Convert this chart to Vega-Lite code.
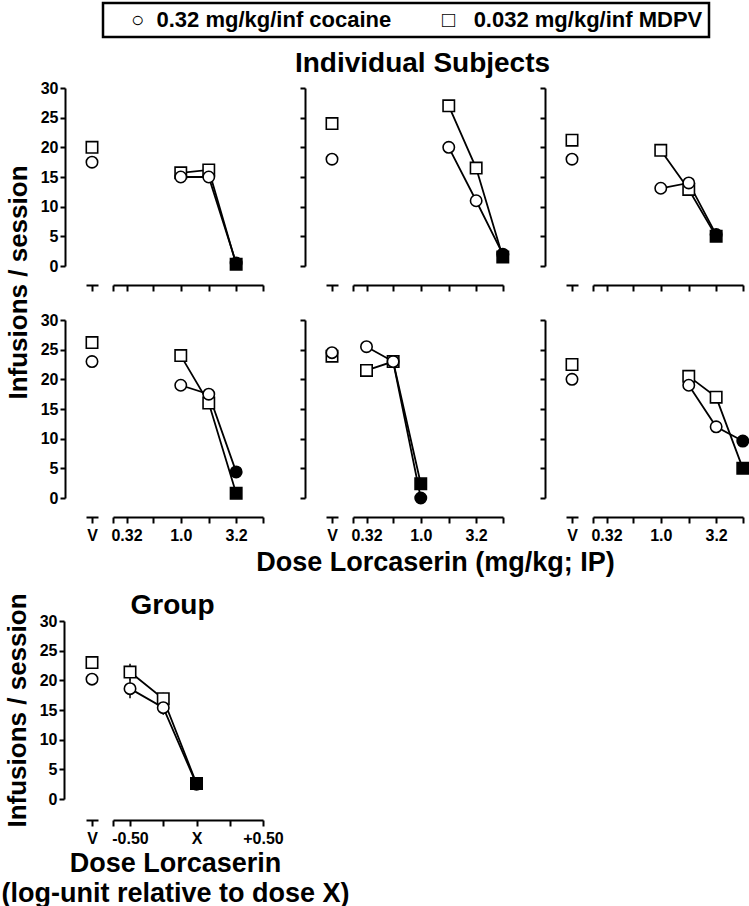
{
  "$schema": "https://vega.github.io/schema/vega-lite/v6.json",
  "padding": {"left": 0, "top": 1, "right": 0, "bottom": 0},
  "background": "white",
  "datasets": {
    "ind": [
      {"subject": 1, "drug": "0.032 mg/kg/inf MDPV", "treatment": "V", "infusions": 20.0, "doseX": false},
      {"subject": 1, "drug": "0.32 mg/kg/inf cocaine", "treatment": "V", "infusions": 17.5, "doseX": false},
      {"subject": 1, "drug": "0.032 mg/kg/inf MDPV", "treatment": "Lorcaserin", "dose": 1.0, "infusions": 15.7, "doseX": false},
      {"subject": 1, "drug": "0.032 mg/kg/inf MDPV", "treatment": "Lorcaserin", "dose": 1.8, "infusions": 16.2, "doseX": false},
      {"subject": 1, "drug": "0.032 mg/kg/inf MDPV", "treatment": "Lorcaserin", "dose": 3.2, "infusions": 0.3, "doseX": true},
      {"subject": 1, "drug": "0.32 mg/kg/inf cocaine", "treatment": "Lorcaserin", "dose": 1.0, "infusions": 15.0, "doseX": false},
      {"subject": 1, "drug": "0.32 mg/kg/inf cocaine", "treatment": "Lorcaserin", "dose": 1.8, "infusions": 15.0, "doseX": false},
      {"subject": 1, "drug": "0.32 mg/kg/inf cocaine", "treatment": "Lorcaserin", "dose": 3.2, "infusions": 0.5, "doseX": true},
      {"subject": 2, "drug": "0.032 mg/kg/inf MDPV", "treatment": "V", "infusions": 24.0, "doseX": false},
      {"subject": 2, "drug": "0.32 mg/kg/inf cocaine", "treatment": "V", "infusions": 18.0, "doseX": false},
      {"subject": 2, "drug": "0.032 mg/kg/inf MDPV", "treatment": "Lorcaserin", "dose": 1.8, "infusions": 27.0, "doseX": false},
      {"subject": 2, "drug": "0.032 mg/kg/inf MDPV", "treatment": "Lorcaserin", "dose": 3.2, "infusions": 16.5, "doseX": false},
      {"subject": 2, "drug": "0.032 mg/kg/inf MDPV", "treatment": "Lorcaserin", "dose": 5.6, "infusions": 1.5, "doseX": true},
      {"subject": 2, "drug": "0.32 mg/kg/inf cocaine", "treatment": "Lorcaserin", "dose": 1.8, "infusions": 20.0, "doseX": false},
      {"subject": 2, "drug": "0.32 mg/kg/inf cocaine", "treatment": "Lorcaserin", "dose": 3.2, "infusions": 11.0, "doseX": false},
      {"subject": 2, "drug": "0.32 mg/kg/inf cocaine", "treatment": "Lorcaserin", "dose": 5.6, "infusions": 2.0, "doseX": true},
      {"subject": 3, "drug": "0.032 mg/kg/inf MDPV", "treatment": "V", "infusions": 21.2, "doseX": false},
      {"subject": 3, "drug": "0.32 mg/kg/inf cocaine", "treatment": "V", "infusions": 18.0, "doseX": false},
      {"subject": 3, "drug": "0.032 mg/kg/inf MDPV", "treatment": "Lorcaserin", "dose": 1.0, "infusions": 19.5, "doseX": false},
      {"subject": 3, "drug": "0.032 mg/kg/inf MDPV", "treatment": "Lorcaserin", "dose": 1.8, "infusions": 12.9, "doseX": false},
      {"subject": 3, "drug": "0.032 mg/kg/inf MDPV", "treatment": "Lorcaserin", "dose": 3.2, "infusions": 5.0, "doseX": true},
      {"subject": 3, "drug": "0.32 mg/kg/inf cocaine", "treatment": "Lorcaserin", "dose": 1.0, "infusions": 13.1, "doseX": false},
      {"subject": 3, "drug": "0.32 mg/kg/inf cocaine", "treatment": "Lorcaserin", "dose": 1.8, "infusions": 14.0, "doseX": false},
      {"subject": 3, "drug": "0.32 mg/kg/inf cocaine", "treatment": "Lorcaserin", "dose": 3.2, "infusions": 5.3, "doseX": true},
      {"subject": 4, "drug": "0.032 mg/kg/inf MDPV", "treatment": "V", "infusions": 26.2, "doseX": false},
      {"subject": 4, "drug": "0.32 mg/kg/inf cocaine", "treatment": "V", "infusions": 23.0, "doseX": false},
      {"subject": 4, "drug": "0.032 mg/kg/inf MDPV", "treatment": "Lorcaserin", "dose": 1.0, "infusions": 24.0, "doseX": false},
      {"subject": 4, "drug": "0.032 mg/kg/inf MDPV", "treatment": "Lorcaserin", "dose": 1.8, "infusions": 16.0, "doseX": false},
      {"subject": 4, "drug": "0.032 mg/kg/inf MDPV", "treatment": "Lorcaserin", "dose": 3.2, "infusions": 0.8, "doseX": true},
      {"subject": 4, "drug": "0.32 mg/kg/inf cocaine", "treatment": "Lorcaserin", "dose": 1.0, "infusions": 19.0, "doseX": false},
      {"subject": 4, "drug": "0.32 mg/kg/inf cocaine", "treatment": "Lorcaserin", "dose": 1.8, "infusions": 17.5, "doseX": false},
      {"subject": 4, "drug": "0.32 mg/kg/inf cocaine", "treatment": "Lorcaserin", "dose": 3.2, "infusions": 4.4, "doseX": true},
      {"subject": 5, "drug": "0.032 mg/kg/inf MDPV", "treatment": "V", "infusions": 23.9, "doseX": false},
      {"subject": 5, "drug": "0.32 mg/kg/inf cocaine", "treatment": "V", "infusions": 24.5, "doseX": false},
      {"subject": 5, "drug": "0.032 mg/kg/inf MDPV", "treatment": "Lorcaserin", "dose": 0.32, "infusions": 21.5, "doseX": false},
      {"subject": 5, "drug": "0.032 mg/kg/inf MDPV", "treatment": "Lorcaserin", "dose": 0.56, "infusions": 23.0, "doseX": false},
      {"subject": 5, "drug": "0.032 mg/kg/inf MDPV", "treatment": "Lorcaserin", "dose": 1.0, "infusions": 2.4, "doseX": true},
      {"subject": 5, "drug": "0.32 mg/kg/inf cocaine", "treatment": "Lorcaserin", "dose": 0.32, "infusions": 25.5, "doseX": false},
      {"subject": 5, "drug": "0.32 mg/kg/inf cocaine", "treatment": "Lorcaserin", "dose": 0.56, "infusions": 23.0, "doseX": false},
      {"subject": 5, "drug": "0.32 mg/kg/inf cocaine", "treatment": "Lorcaserin", "dose": 1.0, "infusions": 0.0, "doseX": true},
      {"subject": 6, "drug": "0.032 mg/kg/inf MDPV", "treatment": "V", "infusions": 22.5, "doseX": false},
      {"subject": 6, "drug": "0.32 mg/kg/inf cocaine", "treatment": "V", "infusions": 20.0, "doseX": false},
      {"subject": 6, "drug": "0.032 mg/kg/inf MDPV", "treatment": "Lorcaserin", "dose": 1.8, "infusions": 20.5, "doseX": false},
      {"subject": 6, "drug": "0.032 mg/kg/inf MDPV", "treatment": "Lorcaserin", "dose": 3.2, "infusions": 17.0, "doseX": false},
      {"subject": 6, "drug": "0.032 mg/kg/inf MDPV", "treatment": "Lorcaserin", "dose": 5.6, "infusions": 5.0, "doseX": true},
      {"subject": 6, "drug": "0.32 mg/kg/inf cocaine", "treatment": "Lorcaserin", "dose": 1.8, "infusions": 19.0, "doseX": false},
      {"subject": 6, "drug": "0.32 mg/kg/inf cocaine", "treatment": "Lorcaserin", "dose": 3.2, "infusions": 12.0, "doseX": false},
      {"subject": 6, "drug": "0.32 mg/kg/inf cocaine", "treatment": "Lorcaserin", "dose": 5.6, "infusions": 9.6, "doseX": true}
    ],
    "grp": [
      {"drug": "0.032 mg/kg/inf MDPV", "treatment": "V", "infusions": 23.0, "sem": 0.8, "doseX": false},
      {"drug": "0.32 mg/kg/inf cocaine", "treatment": "V", "infusions": 20.2, "sem": 0.8, "doseX": false},
      {"drug": "0.032 mg/kg/inf MDPV", "treatment": "Lorcaserin", "relDose": -0.5, "infusions": 21.4, "sem": 1.4, "doseX": false},
      {"drug": "0.032 mg/kg/inf MDPV", "treatment": "Lorcaserin", "relDose": -0.25, "infusions": 16.9, "sem": 1.0, "doseX": false},
      {"drug": "0.032 mg/kg/inf MDPV", "treatment": "Lorcaserin", "relDose": 0, "infusions": 2.6, "sem": 0.6, "doseX": true},
      {"drug": "0.32 mg/kg/inf cocaine", "treatment": "Lorcaserin", "relDose": -0.5, "infusions": 18.6, "sem": 1.6, "doseX": false},
      {"drug": "0.32 mg/kg/inf cocaine", "treatment": "Lorcaserin", "relDose": -0.25, "infusions": 15.4, "sem": 1.2, "doseX": false},
      {"drug": "0.32 mg/kg/inf cocaine", "treatment": "Lorcaserin", "relDose": 0, "infusions": 2.5, "sem": 0.6, "doseX": true}
    ]
  },
  "bounds": "flush",
  "columns": 3,
  "spacing": {"row": 54, "column": 63},
  "concat": [
    {
      "width": 177, "height": 178, "data": {"name": "ind"},
      "transform": [{"filter": "datum.subject == 1"}],
      "encoding": {"y": {"field": "infusions", "type": "quantitative", "scale": {"domain": [0, 30], "nice": false}, "axis": {"values": [0, 5, 10, 15, 20, 25, 30], "title": "Infusions / session", "titleX": -34, "titleY": 194, "labels": true}}},
      "layer": [
        {"transform": [{"filter": "datum.treatment == 'V'"}],
         "mark": {"type": "point", "filled": true, "size": 130, "strokeWidth": 1.6, "stroke": "black", "opacity": 1},
         "encoding": {
           "x": {"field": "treatment", "type": "nominal", "scale": {"type": "point", "domain": ["V"], "range": [0, 12], "padding": 0.5}, "axis": {"orient": "bottom", "title": null, "labels": false}},
           "shape": {"field": "drug", "type": "nominal", "scale": {"domain": ["0.32 mg/kg/inf cocaine", "0.032 mg/kg/inf MDPV"], "range": ["circle", "square"]},
             "legend": {"orient": "none", "legendX": 17, "legendY": -85, "direction": "horizontal", "title": null, "labelLimit": 400, "columnPadding": 28, "symbolOpacity": 0, "symbolSize": 1, "labelOffset": 0,
               "labelExpr": "(datum.label == '0.32 mg/kg/inf cocaine' ? '○\u00a0\u00a0' : '□\u00a0\u00a0\u00a0') + datum.label"}},
           "fill": {"condition": {"test": "datum.doseX", "value": "black"}, "value": "white"}}},
        {"transform": [{"filter": "datum.treatment == 'Lorcaserin'"}],
         "encoding": {"x": {"field": "dose", "type": "quantitative", "scale": {"type": "log", "domain": [0.241, 5.623], "range": [27, 177], "nice": false}, "axis": {"orient": "bottom", "values": [0.241, 0.32, 0.56, 1, 1.8, 3.2, 5.6], "title": null, "labels": false}}},
         "layer": [
           {"mark": {"type": "line", "color": "black", "strokeWidth": 1.8}, "encoding": {"detail": {"field": "drug"}}},
           {"mark": {"type": "point", "filled": true, "size": 130, "strokeWidth": 1.6, "stroke": "black", "opacity": 1},
            "encoding": {
              "shape": {"field": "drug", "type": "nominal", "scale": {"domain": ["0.32 mg/kg/inf cocaine", "0.032 mg/kg/inf MDPV"], "range": ["circle", "square"]}, "legend": null},
              "fill": {"condition": {"test": "datum.doseX", "value": "black"}, "value": "white"}}}
         ]}
      ],
      "resolve": {"scale": {"x": "independent"}, "axis": {"x": "independent"}}
    },
    {
      "title": {"text": "Individual Subjects", "anchor": "middle", "frame": "group", "dx": 8, "offset": 9},
      "width": 177, "height": 178, "data": {"name": "ind"},
      "transform": [{"filter": "datum.subject == 2"}],
      "encoding": {"y": {"field": "infusions", "type": "quantitative", "scale": {"domain": [0, 30], "nice": false}, "axis": {"values": [0, 5, 10, 15, 20, 25, 30], "title": null, "labels": false}}},
      "layer": [
        {"transform": [{"filter": "datum.treatment == 'V'"}],
         "mark": {"type": "point", "filled": true, "size": 130, "strokeWidth": 1.6, "stroke": "black", "opacity": 1},
         "encoding": {
           "x": {"field": "treatment", "type": "nominal", "scale": {"type": "point", "domain": ["V"], "range": [0, 12], "padding": 0.5}, "axis": {"orient": "bottom", "title": null, "labels": false}},
           "shape": {"field": "drug", "type": "nominal", "scale": {"domain": ["0.32 mg/kg/inf cocaine", "0.032 mg/kg/inf MDPV"], "range": ["circle", "square"]}, "legend": null},
           "fill": {"condition": {"test": "datum.doseX", "value": "black"}, "value": "white"}}},
        {"transform": [{"filter": "datum.treatment == 'Lorcaserin'"}],
         "encoding": {"x": {"field": "dose", "type": "quantitative", "scale": {"type": "log", "domain": [0.241, 5.623], "range": [27, 177], "nice": false}, "axis": {"orient": "bottom", "values": [0.241, 0.32, 0.56, 1, 1.8, 3.2, 5.6], "title": null, "labels": false}}},
         "layer": [
           {"mark": {"type": "line", "color": "black", "strokeWidth": 1.8}, "encoding": {"detail": {"field": "drug"}}},
           {"mark": {"type": "point", "filled": true, "size": 130, "strokeWidth": 1.6, "stroke": "black", "opacity": 1},
            "encoding": {
              "shape": {"field": "drug", "type": "nominal", "scale": {"domain": ["0.32 mg/kg/inf cocaine", "0.032 mg/kg/inf MDPV"], "range": ["circle", "square"]}, "legend": null},
              "fill": {"condition": {"test": "datum.doseX", "value": "black"}, "value": "white"}}}
         ]}
      ],
      "resolve": {"scale": {"x": "independent"}, "axis": {"x": "independent"}}
    },
    {
      "width": 177, "height": 178, "data": {"name": "ind"},
      "transform": [{"filter": "datum.subject == 3"}],
      "encoding": {"y": {"field": "infusions", "type": "quantitative", "scale": {"domain": [0, 30], "nice": false}, "axis": {"values": [0, 5, 10, 15, 20, 25, 30], "title": null, "labels": false}}},
      "layer": [
        {"transform": [{"filter": "datum.treatment == 'V'"}],
         "mark": {"type": "point", "filled": true, "size": 130, "strokeWidth": 1.6, "stroke": "black", "opacity": 1},
         "encoding": {
           "x": {"field": "treatment", "type": "nominal", "scale": {"type": "point", "domain": ["V"], "range": [0, 12], "padding": 0.5}, "axis": {"orient": "bottom", "title": null, "labels": false}},
           "shape": {"field": "drug", "type": "nominal", "scale": {"domain": ["0.32 mg/kg/inf cocaine", "0.032 mg/kg/inf MDPV"], "range": ["circle", "square"]}, "legend": null},
           "fill": {"condition": {"test": "datum.doseX", "value": "black"}, "value": "white"}}},
        {"transform": [{"filter": "datum.treatment == 'Lorcaserin'"}],
         "encoding": {"x": {"field": "dose", "type": "quantitative", "scale": {"type": "log", "domain": [0.241, 5.623], "range": [27, 177], "nice": false}, "axis": {"orient": "bottom", "values": [0.241, 0.32, 0.56, 1, 1.8, 3.2, 5.6], "title": null, "labels": false}}},
         "layer": [
           {"mark": {"type": "line", "color": "black", "strokeWidth": 1.8}, "encoding": {"detail": {"field": "drug"}}},
           {"mark": {"type": "point", "filled": true, "size": 130, "strokeWidth": 1.6, "stroke": "black", "opacity": 1},
            "encoding": {
              "shape": {"field": "drug", "type": "nominal", "scale": {"domain": ["0.32 mg/kg/inf cocaine", "0.032 mg/kg/inf MDPV"], "range": ["circle", "square"]}, "legend": null},
              "fill": {"condition": {"test": "datum.doseX", "value": "black"}, "value": "white"}}}
         ]}
      ],
      "resolve": {"scale": {"x": "independent"}, "axis": {"x": "independent"}}
    },
    {
      "width": 177, "height": 178, "data": {"name": "ind"},
      "transform": [{"filter": "datum.subject == 4"}],
      "encoding": {"y": {"field": "infusions", "type": "quantitative", "scale": {"domain": [0, 30], "nice": false}, "axis": {"values": [0, 5, 10, 15, 20, 25, 30], "title": null, "labels": true}}},
      "layer": [
        {"transform": [{"filter": "datum.treatment == 'V'"}],
         "mark": {"type": "point", "filled": true, "size": 130, "strokeWidth": 1.6, "stroke": "black", "opacity": 1},
         "encoding": {
           "x": {"field": "treatment", "type": "nominal", "scale": {"type": "point", "domain": ["V"], "range": [0, 12], "padding": 0.5}, "axis": {"orient": "bottom", "title": null, "labels": true}},
           "shape": {"field": "drug", "type": "nominal", "scale": {"domain": ["0.32 mg/kg/inf cocaine", "0.032 mg/kg/inf MDPV"], "range": ["circle", "square"]}, "legend": null},
           "fill": {"condition": {"test": "datum.doseX", "value": "black"}, "value": "white"}}},
        {"transform": [{"filter": "datum.treatment == 'Lorcaserin'"}],
         "encoding": {"x": {"field": "dose", "type": "quantitative", "scale": {"type": "log", "domain": [0.241, 5.623], "range": [27, 177], "nice": false}, "axis": {"orient": "bottom", "values": [0.241, 0.32, 0.56, 1, 1.8, 3.2, 5.6], "title": null, "labels": true, "labelExpr": "datum.value == 0.32 ? '0.32' : datum.value == 1 ? '1.0' : datum.value == 3.2 ? '3.2' : ''"}}},
         "layer": [
           {"mark": {"type": "line", "color": "black", "strokeWidth": 1.8}, "encoding": {"detail": {"field": "drug"}}},
           {"mark": {"type": "point", "filled": true, "size": 130, "strokeWidth": 1.6, "stroke": "black", "opacity": 1},
            "encoding": {
              "shape": {"field": "drug", "type": "nominal", "scale": {"domain": ["0.32 mg/kg/inf cocaine", "0.032 mg/kg/inf MDPV"], "range": ["circle", "square"]}, "legend": null},
              "fill": {"condition": {"test": "datum.doseX", "value": "black"}, "value": "white"}}}
         ]}
      ],
      "resolve": {"scale": {"x": "independent"}, "axis": {"x": "independent"}}
    },
    {
      "title": {"text": "Dose Lorcaserin (mg/kg; IP)", "orient": "bottom", "anchor": "middle", "frame": "group", "dx": 21, "offset": 7, "fontSize": 27},
      "width": 177, "height": 178, "data": {"name": "ind"},
      "transform": [{"filter": "datum.subject == 5"}],
      "encoding": {"y": {"field": "infusions", "type": "quantitative", "scale": {"domain": [0, 30], "nice": false}, "axis": {"values": [0, 5, 10, 15, 20, 25, 30], "title": null, "labels": false}}},
      "layer": [
        {"transform": [{"filter": "datum.treatment == 'V'"}],
         "mark": {"type": "point", "filled": true, "size": 130, "strokeWidth": 1.6, "stroke": "black", "opacity": 1},
         "encoding": {
           "x": {"field": "treatment", "type": "nominal", "scale": {"type": "point", "domain": ["V"], "range": [0, 12], "padding": 0.5}, "axis": {"orient": "bottom", "title": null, "labels": true}},
           "shape": {"field": "drug", "type": "nominal", "scale": {"domain": ["0.32 mg/kg/inf cocaine", "0.032 mg/kg/inf MDPV"], "range": ["circle", "square"]}, "legend": null},
           "fill": {"condition": {"test": "datum.doseX", "value": "black"}, "value": "white"}}},
        {"transform": [{"filter": "datum.treatment == 'Lorcaserin'"}],
         "encoding": {"x": {"field": "dose", "type": "quantitative", "scale": {"type": "log", "domain": [0.241, 5.623], "range": [27, 177], "nice": false}, "axis": {"orient": "bottom", "values": [0.241, 0.32, 0.56, 1, 1.8, 3.2, 5.6], "title": null, "labels": true, "labelExpr": "datum.value == 0.32 ? '0.32' : datum.value == 1 ? '1.0' : datum.value == 3.2 ? '3.2' : ''"}}},
         "layer": [
           {"mark": {"type": "line", "color": "black", "strokeWidth": 1.8}, "encoding": {"detail": {"field": "drug"}}},
           {"mark": {"type": "point", "filled": true, "size": 130, "strokeWidth": 1.6, "stroke": "black", "opacity": 1},
            "encoding": {
              "shape": {"field": "drug", "type": "nominal", "scale": {"domain": ["0.32 mg/kg/inf cocaine", "0.032 mg/kg/inf MDPV"], "range": ["circle", "square"]}, "legend": null},
              "fill": {"condition": {"test": "datum.doseX", "value": "black"}, "value": "white"}}}
         ]}
      ],
      "resolve": {"scale": {"x": "independent"}, "axis": {"x": "independent"}}
    },
    {
      "width": 177, "height": 178, "data": {"name": "ind"},
      "transform": [{"filter": "datum.subject == 6"}],
      "encoding": {"y": {"field": "infusions", "type": "quantitative", "scale": {"domain": [0, 30], "nice": false}, "axis": {"values": [0, 5, 10, 15, 20, 25, 30], "title": null, "labels": false}}},
      "layer": [
        {"transform": [{"filter": "datum.treatment == 'V'"}],
         "mark": {"type": "point", "filled": true, "size": 130, "strokeWidth": 1.6, "stroke": "black", "opacity": 1},
         "encoding": {
           "x": {"field": "treatment", "type": "nominal", "scale": {"type": "point", "domain": ["V"], "range": [0, 12], "padding": 0.5}, "axis": {"orient": "bottom", "title": null, "labels": true}},
           "shape": {"field": "drug", "type": "nominal", "scale": {"domain": ["0.32 mg/kg/inf cocaine", "0.032 mg/kg/inf MDPV"], "range": ["circle", "square"]}, "legend": null},
           "fill": {"condition": {"test": "datum.doseX", "value": "black"}, "value": "white"}}},
        {"transform": [{"filter": "datum.treatment == 'Lorcaserin'"}],
         "encoding": {"x": {"field": "dose", "type": "quantitative", "scale": {"type": "log", "domain": [0.241, 5.623], "range": [27, 177], "nice": false}, "axis": {"orient": "bottom", "values": [0.241, 0.32, 0.56, 1, 1.8, 3.2, 5.6], "title": null, "labels": true, "labelExpr": "datum.value == 0.32 ? '0.32' : datum.value == 1 ? '1.0' : datum.value == 3.2 ? '3.2' : ''"}}},
         "layer": [
           {"mark": {"type": "line", "color": "black", "strokeWidth": 1.8}, "encoding": {"detail": {"field": "drug"}}},
           {"mark": {"type": "point", "filled": true, "size": 130, "strokeWidth": 1.6, "stroke": "black", "opacity": 1},
            "encoding": {
              "shape": {"field": "drug", "type": "nominal", "scale": {"domain": ["0.32 mg/kg/inf cocaine", "0.032 mg/kg/inf MDPV"], "range": ["circle", "square"]}, "legend": null},
              "fill": {"condition": {"test": "datum.doseX", "value": "black"}, "value": "white"}}}
         ]}
      ],
      "resolve": {"scale": {"x": "independent"}, "axis": {"x": "independent"}}
    },
    {
      "title": {"text": "Group", "anchor": "middle", "frame": "group", "dx": -2, "offset": -68},
      "width": 177, "height": 247, "data": {"name": "grp"},
      "encoding": {"y": {"field": "infusions", "type": "quantitative", "scale": {"domain": [0, 30], "range": [247, 69], "nice": false}, "axis": {"values": [0, 5, 10, 15, 20, 25, 30], "title": "Infusions / session", "titleX": -34, "titleY": 158, "labels": true, "offset": 22}}},
      "layer": [
        {"transform": [{"filter": "datum.treatment == 'V'"}],
         "encoding": {"x": {"field": "treatment", "type": "nominal", "scale": {"type": "point", "domain": ["V"], "range": [0, 12], "padding": 0.5}, "axis": {"orient": "bottom", "title": null, "labels": true, "offset": 21}}},
         "layer": [
           {"mark": {"type": "errorbar", "color": "black", "thickness": 1.5}, "encoding": {"yError": {"field": "sem"}, "detail": {"field": "drug"}}},
           {"mark": {"type": "point", "filled": true, "size": 130, "strokeWidth": 1.6, "stroke": "black", "opacity": 1},
            "encoding": {
              "shape": {"field": "drug", "type": "nominal", "scale": {"domain": ["0.32 mg/kg/inf cocaine", "0.032 mg/kg/inf MDPV"], "range": ["circle", "square"]}, "legend": null},
              "fill": {"condition": {"test": "datum.doseX", "value": "black"}, "value": "white"}}}
         ]},
        {"transform": [{"filter": "datum.treatment == 'Lorcaserin'"}],
         "encoding": {"x": {"field": "relDose", "type": "quantitative", "scale": {"domain": [-0.628, 0.5], "range": [27, 177], "nice": false, "zero": false}, "axis": {"orient": "bottom", "values": [-0.628, -0.5, -0.25, 0, 0.25, 0.5], "offset": 21, "labelExpr": "datum.value == -0.5 ? '-0.50' : datum.value == 0 ? 'X' : datum.value == 0.5 ? '+0.50' : ''",
           "title": ["Dose Lorcaserin", "(log-unit relative to dose X)"], "titleX": 89, "titleFontSize": 27, "titleLineHeight": 30, "titlePadding": 4}}},
         "layer": [
           {"mark": {"type": "errorbar", "color": "black", "thickness": 1.5}, "encoding": {"yError": {"field": "sem"}, "detail": {"field": "drug"}}},
           {"mark": {"type": "line", "color": "black", "strokeWidth": 1.8}, "encoding": {"detail": {"field": "drug"}}},
           {"mark": {"type": "point", "filled": true, "size": 130, "strokeWidth": 1.6, "stroke": "black", "opacity": 1},
            "encoding": {
              "shape": {"field": "drug", "type": "nominal", "scale": {"domain": ["0.32 mg/kg/inf cocaine", "0.032 mg/kg/inf MDPV"], "range": ["circle", "square"]}, "legend": null},
              "fill": {"condition": {"test": "datum.doseX", "value": "black"}, "value": "white"}}}
         ]}
      ],
      "resolve": {"scale": {"x": "independent"}, "axis": {"x": "independent"}}
    }
  ],
  "config": {
    "font": "Liberation Sans",
    "view": {"stroke": null},
    "axis": {"domainColor": "black", "domainWidth": 2, "tickColor": "black", "tickWidth": 2, "labelColor": "black", "labelFontSize": 16, "labelFontWeight": "bold", "labelFont": "Liberation Sans", "titleColor": "black", "titleFont": "Liberation Sans", "titleFontWeight": "bold", "titleFontSize": 26, "grid": false, "labelAngle": 0, "labelFlush": false, "labelOverlap": false},
    "axisX": {"tickSize": 6, "labelPadding": 4, "offset": 19},
    "axisY": {"tickSize": 5, "labelPadding": 2, "offset": 21},
    "legend": {"labelFontSize": 22, "labelFontWeight": "bold", "labelFont": "Liberation Sans", "labelColor": "black", "labelLimit": 400, "strokeColor": "black", "strokeWidth": 2.5, "padding": 6},
    "title": {"font": "Liberation Sans", "fontWeight": "bold", "fontSize": 28, "color": "black"}
  }
}
